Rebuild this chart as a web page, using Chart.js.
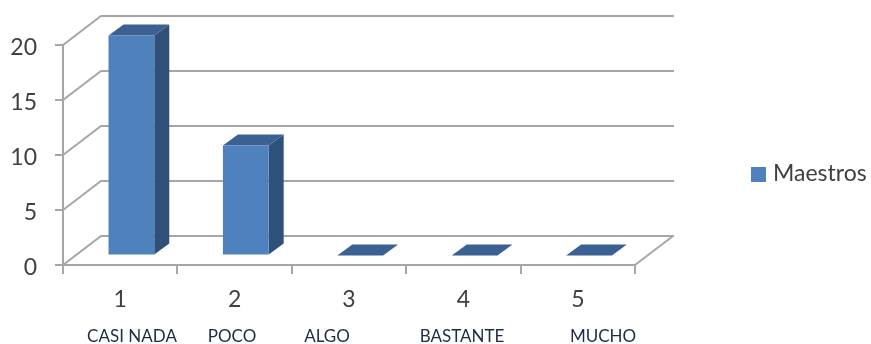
<!DOCTYPE html>
<html>
<head>
<meta charset="utf-8">
<script src="https://cdn.jsdelivr.net/npm/chart.js@4"></script>
<style>
  html, body { margin: 0; padding: 0; background: #fff; }
  #wrap { position: relative; width: 871px; height: 344px; }
</style>
</head>
<body>
<div id="wrap"><canvas id="chart"></canvas></div>
<script>
const categories = ['1', '2', '3', '4', '5'];
const maestros = [20, 10, 0, 0, 0];
const answerWords = ['CASI NADA', 'POCO', 'ALGO', 'BASTANTE', 'MUCHO'];

// the typed answer words don't sit exactly under their categories
const answerWordX = [132, 232, 327, 462, 603];

const FONT = 'Lato, "Open Sans", sans-serif';
const GRID = '#a6a6a6';
const WALL = { dx: 38, dy: -29 };   // depth of the fake 3d box
const BAR_SHIFT = { dx: 11.2, dy: -9.5 };  // bars stand inside the floor
const BAR_DEPTH = { dx: 15, dy: -11 };

function poly(ctx, pts, fill) {
  ctx.beginPath();
  pts.forEach((p, i) => i ? ctx.lineTo(p[0], p[1]) : ctx.moveTo(p[0], p[1]));
  ctx.closePath();
  ctx.fillStyle = fill;
  ctx.fill();
}

const box3d = {
  id: 'box3d',
  // back wall lines and the diagonals on the side wall and floor
  beforeDatasetsDraw(chart) {
    const { ctx, chartArea, scales } = chart;
    ctx.save();
    ctx.strokeStyle = GRID;
    ctx.lineWidth = 2;
    scales.y.ticks.forEach(t => {
      const y = scales.y.getPixelForValue(t.value);
      ctx.beginPath();
      ctx.moveTo(chartArea.left, y);
      ctx.lineTo(chartArea.left + WALL.dx, y + WALL.dy);
      ctx.lineTo(chartArea.right + WALL.dx + 1, y + WALL.dy);
      ctx.stroke();
    });
    ctx.beginPath();
    ctx.moveTo(chartArea.right, chartArea.bottom);
    ctx.lineTo(chartArea.right + WALL.dx, chartArea.bottom + WALL.dy);
    ctx.stroke();

    // side and top faces of each bar
    chart.getDatasetMeta(0).data.forEach(bar => {
      const right = bar.x + bar.width / 2 + BAR_SHIFT.dx;
      const left = bar.x - bar.width / 2 + BAR_SHIFT.dx;
      const top = bar.y + BAR_SHIFT.dy;
      const bottom = bar.base + BAR_SHIFT.dy;
      if (bottom > top) {
        poly(ctx, [[right, top], [right + BAR_DEPTH.dx, top + BAR_DEPTH.dy],
          [right + BAR_DEPTH.dx, bottom + BAR_DEPTH.dy], [right, bottom]], '#2f5078');
      }
      poly(ctx, [[left, top], [left + BAR_DEPTH.dx, top + BAR_DEPTH.dy],
        [right + BAR_DEPTH.dx, top + BAR_DEPTH.dy], [right, top]], '#3a6191');
    });
    ctx.restore();
  },
  beforeDatasetDraw(chart) {
    chart.ctx.save();
    chart.ctx.translate(BAR_SHIFT.dx, BAR_SHIFT.dy);
  },
  afterDatasetDraw(chart) {
    chart.ctx.restore();
  },
  afterDraw(chart) {
    const { ctx, scales } = chart;
    ctx.save();
    ctx.textBaseline = 'middle';

    // y labels sit a little below their tick marks
    ctx.textAlign = 'right';
    ctx.fillStyle = '#404040';
    ctx.font = '23px ' + FONT;
    scales.y.ticks.forEach(t => {
      ctx.fillText(t.label, 37, scales.y.getPixelForValue(t.value) + 3);
    });

    ctx.textAlign = 'center';
    ctx.fillStyle = '#1f2a44';
    ctx.font = '17px ' + FONT;
    answerWords.forEach((w, i) => ctx.fillText(w, answerWordX[i], 337));

    // legend
    ctx.fillStyle = '#4f81bd';
    ctx.fillRect(751, 167, 15, 15);
    ctx.textAlign = 'left';
    ctx.fillStyle = '#404040';
    ctx.font = '23px ' + FONT;
    ctx.fillText(chart.data.datasets[0].label, 773, 174);
    ctx.restore();
  }
};

new Chart(document.getElementById('chart'), {
  type: 'bar',
  data: {
    labels: categories,
    datasets: [{
      label: 'Maestros',
      data: maestros,
      backgroundColor: '#4f81bd',
      barPercentage: 0.4,
      categoryPercentage: 1,
      clip: false
    }]
  },
  options: {
    responsive: true,
    maintainAspectRatio: false,
    animation: false,
    layout: { padding: { top: 45, right: 236, left: 0, bottom: 0 } },
    plugins: { legend: { display: false }, tooltip: { enabled: false } },
    scales: {
      x: {
        afterFit: s => { s.height = 79; },
        border: { color: GRID, width: 2 },
        grid: { drawOnChartArea: false, color: GRID, lineWidth: 2, tickLength: 9 },
        ticks: { color: '#404040', font: { family: FONT, size: 23 }, padding: 12, maxRotation: 0 }
      },
      y: {
        min: 0,
        max: 20,
        afterFit: s => { s.width = 63; },
        border: { color: GRID, width: 2 },
        grid: { drawOnChartArea: false, color: GRID, lineWidth: 2, tickLength: 8 },
        ticks: { stepSize: 5, display: false }
      }
    }
  },
  plugins: [box3d]
});
</script>
</body>
</html>
